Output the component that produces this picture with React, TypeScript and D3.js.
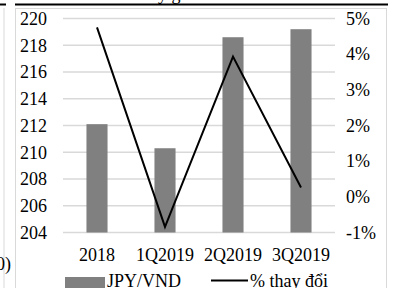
import * as d3 from "d3";

const categories = ["2018", "1Q2019", "2Q2019", "3Q2019"];
const jpyVnd = [212.1, 210.3, 218.6, 219.2];
const pctChange = [0.0475, -0.0084, 0.0393, 0.0026];
const leftTicks = [204, 206, 208, 210, 212, 214, 216, 218, 220];
const rightTicks = [-0.01, 0, 0.01, 0.02, 0.03, 0.04, 0.05];

const W = 398;
const H = 288;
const font = '"Liberation Serif", "Times New Roman", Tinos, "DejaVu Serif", serif';

const App = () => {
  const plot = { left: 63, right: 335, top: 18.5, bottom: 232.5 };

  const xScale = d3.scaleBand<string>()
    .domain(categories)
    .range([plot.left, plot.right])
    .paddingInner(0.69)
    .paddingOuter(0.345);

  const yLeft = d3.scaleLinear().domain([204, 220]).range([plot.bottom, plot.top]);
  const yRight = d3.scaleLinear().domain([-0.01, 0.05]).range([plot.bottom, plot.top]);

  const lineGen = d3.line<number>()
    .x((_, i) => (xScale(categories[i]) as number) + xScale.bandwidth() / 2)
    .y(d => yRight(d));

  const pctFmt = d3.format(".0%");
  const txt = { fontFamily: font, fontSize: "18px" };

  return (
    <svg width={W} height={H} style={{ position: "absolute", left: 0, top: 0, fontFamily: font }}>
      <rect width={W} height={H} fill="#fff" />
      {/* page bits around the chart (cut off in the screenshot) */}
      <text x={175} y={-0.5} textAnchor="middle" style={txt} fill="#000">Diễn biến tỷ giá JPY/VND</text>
      <line x1={0} x2={6} y1={4.5} y2={4.5} stroke="#000" strokeWidth={2} />
      <line x1={15} x2={388} y1={4.5} y2={4.5} stroke="#000" strokeWidth={2} />
      <line x1={4} x2={4} y1={8} y2={H} stroke="#d9d9d9" strokeWidth={1} />
      <text x={-4} y={270} style={txt} fill="#000">0)</text>
      {/* chart border */}
      <rect x={15.5} y={8.5} width={371} height={300} fill="none" stroke="#d9d9d9" strokeWidth={1} />

      {/* gridlines */}
      {leftTicks.map(t => (
        <line key={t} x1={plot.left} x2={plot.right} y1={yLeft(t)} y2={yLeft(t)}
          stroke="#d9d9d9" strokeWidth={1.3} />
      ))}

      {/* left axis labels */}
      {leftTicks.map(t => (
        <text key={"l" + t} x={47} y={yLeft(t)} dy="0.35em" textAnchor="end" style={txt} fill="#000">{t}</text>
      ))}

      {/* right axis labels */}
      {rightTicks.map(t => (
        <text key={"r" + t} x={346} y={yRight(t)} dy="0.35em" textAnchor="start" style={txt} fill="#000">
          {pctFmt(t).replace("−", "-")}
        </text>
      ))}

      {/* bars */}
      {jpyVnd.map((v, i) => (
        <rect key={categories[i]} x={xScale(categories[i])} y={yLeft(v)}
          width={xScale.bandwidth()} height={yLeft(204) - yLeft(v)} fill="#808080" />
      ))}

      {/* line */}
      <path d={lineGen(pctChange) || ""} fill="none" stroke="#000" strokeWidth={2} />

      {/* x labels */}
      {categories.map(c => (
        <text key={"x" + c} x={(xScale(c) as number) + xScale.bandwidth() / 2} y={261}
          textAnchor="middle" style={txt} fill="#000">{c}</text>
      ))}

      {/* legend */}
      <rect x={65} y={277} width={40} height={12} fill="#808080" />
      <text x={107} y={287} style={txt} fill="#000">JPY/VND</text>
      <line x1={211} x2={248} y1={280.5} y2={280.5} stroke="#000" strokeWidth={2} />
      <text x={250} y={287} style={txt} fill="#000">% thay đổi</text>
    </svg>
  );
};

export default App;
